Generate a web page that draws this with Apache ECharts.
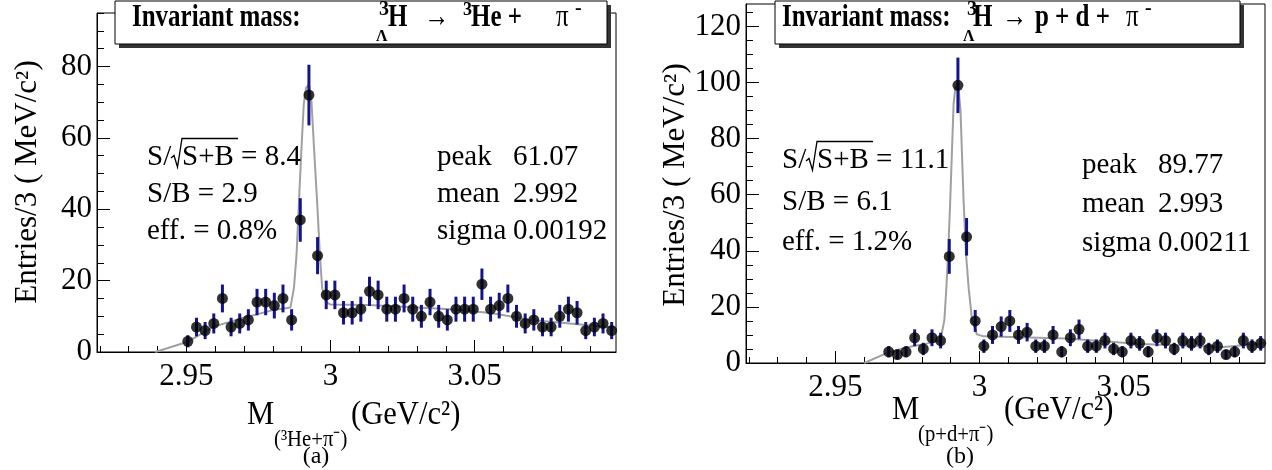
<!DOCTYPE html>
<html><head><meta charset="utf-8">
<script src="https://cdn.jsdelivr.net/npm/echarts@6/dist/echarts.min.js"></script>
<style>html,body{margin:0;padding:0;background:#fff}#c{width:1272px;height:470px}</style>
</head><body><div id="c"></div>
<script>
// ---------------- data ----------------
const leftMass = [2.9505,2.9535,2.9565,2.9595,2.9625,2.9655,2.9685,2.9715,2.9745,2.9775,
  2.9805,2.9835,2.9865,2.9895,2.9925,2.9955,2.9985,3.0015,3.0045,3.0075,
  3.0105,3.0135,3.0165,3.0195,3.0225,3.0255,3.0285,3.0315,3.0345,3.0375,
  3.0405,3.0435,3.0465,3.0495,3.0525,3.0555,3.0585,3.0615,3.0645,3.0675,
  3.0705,3.0735,3.0765,3.0795,3.0825,3.0855,3.0885,3.0915,3.0945,3.0975];
const leftCounts = [3,7,6,8,15,7,8,9,14,14,
  13,15,9,37,72,27,16,16,11,11,
  12,17,16,12,12,15,12,10,14,10,
  9,12,12,12,19,12,13,15,10,8,
  9,7,7,10,12,11,6,7,8,6];
const leftErr = [1.7,2.6,2.4,2.8,3.9,2.6,2.8,3.0,3.7,3.7,
  3.6,3.9,3.0,6.1,8.5,5.2,4.0,4.0,3.3,3.3,
  3.5,4.1,4.0,3.5,3.5,3.9,3.5,3.2,3.7,3.2,
  3.0,3.5,3.5,3.5,4.4,3.5,3.6,3.9,3.2,2.8,
  3.0,2.6,2.6,3.2,3.5,3.3,2.4,2.6,2.8,2.4];
const leftFitMass = [2.9392,2.9502,2.9595,2.9699,2.9803,2.9861,2.9873,2.9882,2.9890,2.9898,2.9907,2.9915,2.9925,2.9934,2.9944,2.9954,2.9963,2.9971,2.9983,3.0000,3.0130,3.0255,3.0415,3.0555,3.0695,3.0830,3.0990];
const leftFitValue = [0,2.8,7.1,9.6,11.8,12.5,17.9,27.2,41.3,55.3,69.3,74,75,70,55.3,41.3,27.2,17.9,14.1,13.3,13.2,12.7,12.0,10.9,9.0,8.0,6.8];

const rightMass = [2.9685,2.9715,2.9745,2.9775,2.9805,2.9835,2.9865,2.9895,2.9925,2.9955,
  2.9985,3.0015,3.0045,3.0075,3.0105,3.0135,3.0165,3.0195,3.0225,3.0255,
  3.0285,3.0315,3.0345,3.0375,3.0405,3.0435,3.0465,3.0495,3.0525,3.0555,
  3.0585,3.0615,3.0645,3.0675,3.0705,3.0735,3.0765,3.0795,3.0825,3.0855,
  3.0885,3.0915,3.0945,3.0975];
const rightCounts = [4,3,4,9,5,9,8,38,99,45,
  15,6,10,13,15,10,11,6,6,10,
  4,9,12,6,6,8,5,4,8,7,
  4,9,8,5,8,7,8,5,6,3,
  4,8,6,7];
const rightErr = [2.0,1.7,2.0,3.0,2.2,3.0,2.8,6.2,9.9,6.7,
  3.9,2.4,3.2,3.6,3.9,3.2,3.3,2.4,2.4,3.2,
  2.0,3.0,3.5,2.4,2.4,2.8,2.2,2.0,2.8,2.6,
  2.0,3.0,2.8,2.2,2.8,2.6,2.8,2.2,2.4,1.7,
  2.0,2.8,2.4,2.6];
const rightFitMass = [2.9600,2.9678,2.9745,2.9820,2.9864,2.9878,2.9885,2.9891,2.9898,2.9904,2.9910,2.9916,2.9922,2.9928,2.9934,2.9939,2.9945,2.9953,2.9962,2.9974,2.9991,3.0014,3.0300,3.0558,3.0847,3.0990];
const rightFitValue = [0,3.5,5.5,7.0,8.0,15.3,27,39,56.9,74.7,92.5,98,99,97,90,74.7,56.9,39,27,15.3,10.2,9.5,8.7,6.8,5.7,7.0];

const xTickValues = [2.95,3.0,3.05];
const xTickLabels = ['2.95','3','3.05'];
const xMinorTicks = [2.92,2.93,2.94,2.95,2.96,2.97,2.98,2.99,3.00,3.01,3.02,3.03,3.04,3.05,3.06,3.07,3.08,3.09];
const leftYLabels = [0,20,40,60,80];
const leftYMinor = [0,5,10,15,20,25,30,35,40,45,50,55,60,65,70,75,80,85,90,95];
const rightYLabels = [0,20,40,60,80,100,120];
const rightYMinor = [0,5,10,15,20,25,30,35,40,45,50,55,60,65,70,75,80,85,90,95,100,105,110,115,120,125];

// ---------------- chart ----------------
const FAM = 'Liberation Serif';
const chart = echarts.init(document.getElementById('c'), null, {renderer:'canvas'});

function zip(a,b){ return a.map((v,i)=>[v,b[i]]); }
function zip3(a,b,c){ return a.map((v,i)=>[v,b[i],c[i]]); }

function xAxes(gi){
  return [{
    type:'value', gridIndex:gi, min:2.919, max:3.099, position:'bottom',
    axisLine:{show:true, onZero:false, lineStyle:{color:'#000', width:1}},
    axisTick:{show:true, inside:true, length:6, customValues:xMinorTicks, lineStyle:{color:'#000', width:1}},
    axisLabel:{show:true, customValues:xTickValues, margin:9, color:'#000', fontFamily:FAM, fontSize:31,
      formatter:(v)=>{ const i = xTickValues.findIndex(t=>Math.abs(t-v)<1e-6); return i>=0 ? xTickLabels[i] : ''; }},
    splitLine:{show:false}
  },{
    type:'value', gridIndex:gi, min:2.919, max:3.099, position:'bottom',
    axisLine:{show:false, onZero:false},
    axisTick:{show:true, inside:true, length:12, customValues:xTickValues, lineStyle:{color:'#000', width:1}},
    axisLabel:{show:false}, splitLine:{show:false}
  }];
}
function yAxes(gi, max, labels, minor){
  return [{
    type:'value', gridIndex:gi, min:0, max:max, position:'left',
    axisLine:{show:true, onZero:false, lineStyle:{color:'#000', width:1}},
    axisTick:{show:true, inside:true, length:13, customValues:labels, lineStyle:{color:'#000', width:1}},
    axisLabel:{show:true, customValues:labels, margin:5, color:'#000', fontFamily:FAM, fontSize:31},
    splitLine:{show:false}
  },{
    type:'value', gridIndex:gi, min:0, max:max, position:'left',
    axisLine:{show:false, onZero:false},
    axisTick:{show:true, inside:true, length:7, customValues:minor, lineStyle:{color:'#000', width:1}},
    axisLabel:{show:false}, splitLine:{show:false}
  }];
}

function errRender(params, api){
  const x = api.value(0), y = api.value(1), e = api.value(2);
  const p1 = api.coord([x, y - e]), p2 = api.coord([x, y + e]);
  return {type:'line', shape:{x1:p1[0], y1:p1[1], x2:p2[0], y2:p2[1]},
    style:{stroke:'#14148c', lineWidth:3}};
}

function panelSeries(xi, yi, mass, counts, err, fitM, fitV){
  return [
    {type:'line', xAxisIndex:xi, yAxisIndex:yi, data:zip(fitM, fitV), showSymbol:false, symbol:'none',
      lineStyle:{color:'#a0a0a0', width:2}, z:2, silent:true, animation:false},
    {type:'custom', xAxisIndex:xi, yAxisIndex:yi, data:zip3(mass, counts, err), renderItem:errRender,
      encode:{x:0, y:1}, z:3, animation:false},
    {type:'scatter', xAxisIndex:xi, yAxisIndex:yi, data:zip(mass, counts), symbol:'circle', symbolSize:11,
      itemStyle:{color:'#000'}, z:4, animation:false}
  ];
}

function T(x, y, text, size, extra){
  extra = extra || {};
  const el = {type:'text', x:x, y:y, z:100, silent:true,
    style:{text:text, fontFamily:FAM, fontSize:size, fontWeight: extra.bold ? 'bold' : 'normal', fill:'#000',
      align: extra.align || 'left', verticalAlign: 'middle',
      textAlign: extra.align || 'left', textVerticalAlign: 'middle'}};
  if (extra.rotation) el.rotation = extra.rotation;
  if (extra.sx) { el.scaleX = extra.sx; }
  return el;
}
function R(x, y, w, h, fill, stroke){
  return {type:'rect', z:99, silent:true, shape:{x:x, y:y, width:w, height:h},
    style:{fill:fill, stroke:stroke || null, lineWidth:1}};
}
function P(points){
  return {type:'polyline', z:100, silent:true, shape:{points:points},
    style:{stroke:'#000', lineWidth:1.3, fill:null}};
}
const TB = {bold:true, sx:0.78};
const TN = {sx:0.78};
const XT = {sx:0.9};

const graphics = [
  // ---- left title box ----
  R(119, 5, 492, 43, '#333'),
  R(115, 1, 492, 43, '#fff', '#000'),
  T(132, 18, 'Invariant mass:', 32, TB),
  T(379, 10, '3', 20, {bold:true}),
  T(376, 37, 'Λ', 16, {bold:true}),
  T(388, 18, 'H', 32, TB),
  T(424, 18, '→', 32, TN),
  T(463, 10, '3', 18, {bold:true}),
  T(471, 18, 'He +', 32, TB),
  T(556, 18, 'π', 32, TN),
  T(575, 9, '-', 20, {bold:true}),
  // ---- right title box ----
  R(779, 5, 465, 43, '#333'),
  R(775, 1, 465, 43, '#fff', '#000'),
  T(782, 18, 'Invariant mass:', 32, TB),
  T(967, 10, '3', 20, {bold:true}),
  T(963, 37, 'Λ', 16, {bold:true}),
  T(973, 18, 'H', 32, TB),
  T(1002, 18, '→', 32, TN),
  T(1035, 18, 'p + d +', 32, TB),
  T(1126, 18, 'π', 32, TN),
  T(1145, 9, '-', 20, {bold:true}),
  // ---- y titles ----
  T(28, 182, 'Entries/3 ( MeV/c²)', 31, {align:'center', rotation:Math.PI/2}),
  T(676, 185, 'Entries/3 ( MeV/c²)', 31, {align:'center', rotation:Math.PI/2}),
  // ---- x titles ----
  T(247, 415, 'M', 34, XT),
  T(274, 440, '(³He+π⁻)', 23, XT),
  T(351, 415, '(GeV/c²)', 34, XT),
  T(892, 410, 'M', 34, XT),
  T(918, 435, '(p+d+π⁻)', 23, XT),
  T(1004, 410, '(GeV/c²)', 34, XT),
  // ---- panel labels ----
  T(316, 457, '(a)', 24, {align:'center'}),
  T(960, 457, '(b)', 24, {align:'center'}),
  // ---- left stats ----
  T(147, 157, 'S/', 29),
  P([[171,158],[174,155.5],[177.5,167],[182,138.5],[238,138.5]]),
  T(182, 157, 'S+B = 8.4', 29),
  T(147, 194, 'S/B = 2.9', 29),
  T(147, 231, 'eff. = 0.8%', 29),
  T(437, 157, 'peak', 29), T(513, 157, '61.07', 29),
  T(437, 194, 'mean', 29), T(513, 194, '2.992', 29),
  T(437, 231, 'sigma', 29), T(513, 231, '0.00192', 29),
  // ---- right stats ----
  T(782, 160, 'S/', 29),
  P([[806,161],[809,158.5],[812.5,170],[817,141.5],[873,141.5]]),
  T(817, 160, 'S+B = 11.1', 29),
  T(782, 202, 'S/B = 6.1', 29),
  T(782, 242, 'eff. = 1.2%', 29),
  T(1082, 165, 'peak', 29), T(1158, 165, '89.77', 29),
  T(1082, 204, 'mean', 29), T(1158, 204, '2.993', 29),
  T(1082, 243, 'sigma', 29), T(1158, 243, '0.00211', 29)
];

const option = {
  animation:false,
  backgroundColor:'#fff',
  grid:[
    {left:97, top:13, width:519, height:339, show:true, borderColor:'#000', borderWidth:1, backgroundColor:'transparent', containLabel:false},
    {left:746, top:4, width:519, height:359, show:true, borderColor:'#000', borderWidth:1, backgroundColor:'transparent', containLabel:false}
  ],
  xAxis: xAxes(0).concat(xAxes(1)),
  yAxis: yAxes(0, 95, leftYLabels, leftYMinor).concat(yAxes(1, 128, rightYLabels, rightYMinor)),
  series: panelSeries(0, 0, leftMass, leftCounts, leftErr, leftFitMass, leftFitValue)
    .concat(panelSeries(2, 2, rightMass, rightCounts, rightErr, rightFitMass, rightFitValue)),
  graphic: graphics
};
chart.setOption(option);
</script>
</body></html>
